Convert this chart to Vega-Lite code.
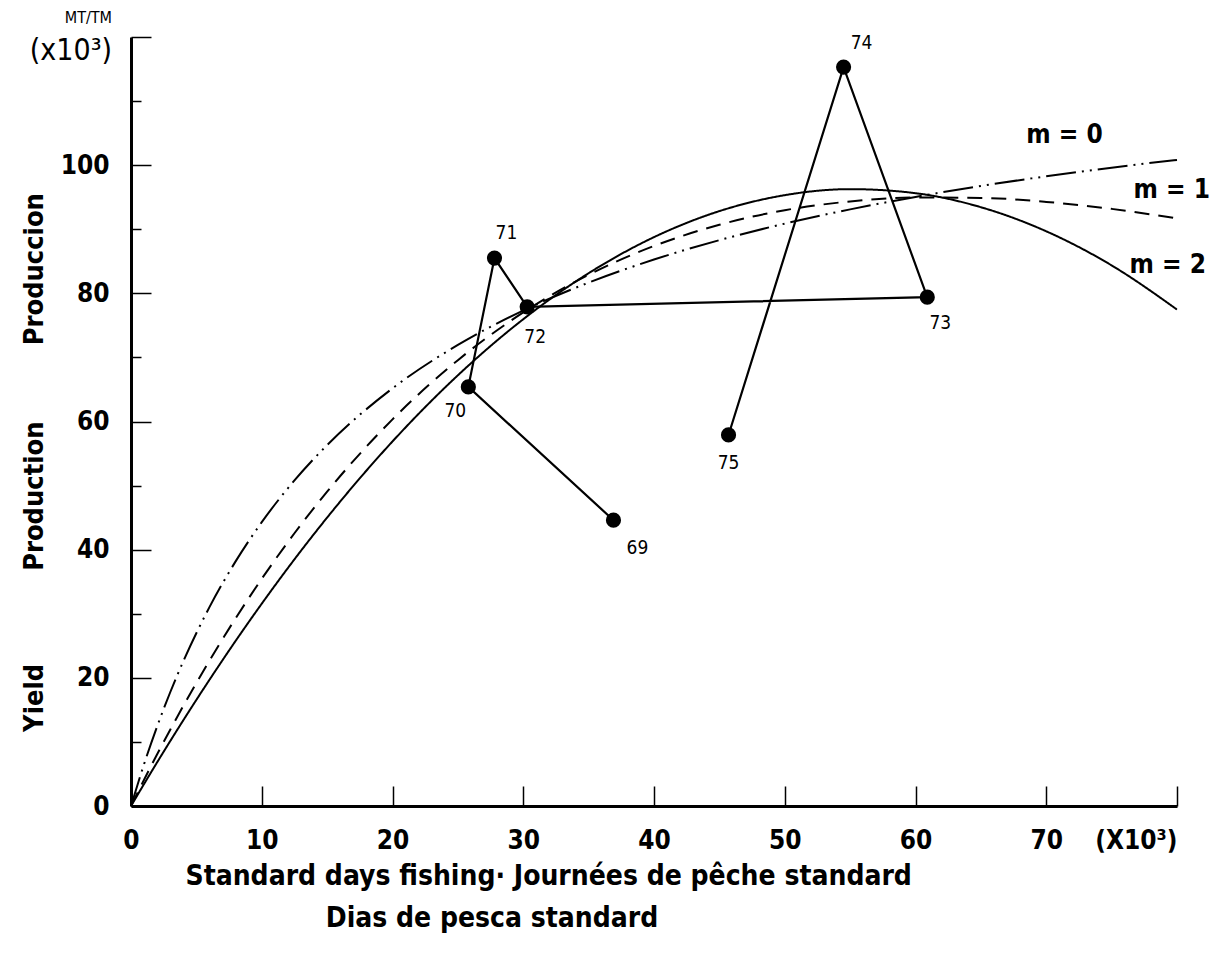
{
  "$schema": "https://vega.github.io/schema/vega-lite/v6.json",
  "width": 1046,
  "height": 769,
  "autosize": {"type": "none"},
  "padding": {"left": 131, "top": 37, "right": 39, "bottom": 163},
  "background": "white",
  "config": {"view": {"stroke": null}, "font": "DejaVu Sans Condensed"},
  "title": {
    "text": "MT/TM",
    "subtitle": "(x10³)",
    "anchor": "start",
    "frame": "group",
    "align": "right",
    "dx": -19,
    "offset": -42,
    "font": "DejaVu Sans Condensed",
    "fontSize": 16,
    "fontWeight": "normal",
    "color": "black",
    "subtitleFont": "DejaVu Sans Condensed",
    "subtitleFontSize": 30,
    "subtitleColor": "black",
    "subtitlePadding": 10
  },
  "datasets": {
    "curves": [
      {"m": "0", "effort": 0, "yield": 0}, {"m": "0", "effort": 1, "yield": 6.54}, {"m": "0", "effort": 2, "yield": 12.43}, {"m": "0", "effort": 3, "yield": 17.75}, {"m": "0", "effort": 4, "yield": 22.58}, {"m": "0", "effort": 6, "yield": 31.03}, {"m": "0", "effort": 8, "yield": 38.17}, {"m": "0", "effort": 10, "yield": 44.29}, {"m": "0", "effort": 12.5, "yield": 50.8}, {"m": "0", "effort": 15, "yield": 56.32}, {"m": "0", "effort": 20, "yield": 65.17}, {"m": "0", "effort": 25, "yield": 71.95}, {"m": "0", "effort": 30, "yield": 77.32}, {"m": "0", "effort": 35, "yield": 81.67}, {"m": "0", "effort": 40, "yield": 85.27}, {"m": "0", "effort": 45, "yield": 88.3}, {"m": "0", "effort": 50, "yield": 90.88}, {"m": "0", "effort": 55, "yield": 93.1}, {"m": "0", "effort": 60, "yield": 95.04}, {"m": "0", "effort": 65, "yield": 96.75}, {"m": "0", "effort": 70, "yield": 98.26}, {"m": "0", "effort": 75, "yield": 99.61}, {"m": "0", "effort": 80, "yield": 100.82},
      {"m": "1", "effort": 0, "yield": 0}, {"m": "1", "effort": 1, "yield": 4.1}, {"m": "1", "effort": 2, "yield": 8.07}, {"m": "1", "effort": 3, "yield": 11.9}, {"m": "1", "effort": 4, "yield": 15.62}, {"m": "1", "effort": 6, "yield": 22.68}, {"m": "1", "effort": 8, "yield": 29.29}, {"m": "1", "effort": 10, "yield": 35.45}, {"m": "1", "effort": 12.5, "yield": 42.56}, {"m": "1", "effort": 15, "yield": 49.05}, {"m": "1", "effort": 20, "yield": 60.33}, {"m": "1", "effort": 25, "yield": 69.57}, {"m": "1", "effort": 30, "yield": 77.02}, {"m": "1", "effort": 35, "yield": 82.89}, {"m": "1", "effort": 40, "yield": 87.39}, {"m": "1", "effort": 45, "yield": 90.7}, {"m": "1", "effort": 50, "yield": 92.97}, {"m": "1", "effort": 55, "yield": 94.34}, {"m": "1", "effort": 60, "yield": 94.95}, {"m": "1", "effort": 65, "yield": 94.89}, {"m": "1", "effort": 70, "yield": 94.27}, {"m": "1", "effort": 75, "yield": 93.18}, {"m": "1", "effort": 80, "yield": 91.69},
      {"m": "2", "effort": 0, "yield": 0}, {"m": "2", "effort": 1, "yield": 3.44}, {"m": "2", "effort": 2, "yield": 6.82}, {"m": "2", "effort": 3, "yield": 10.13}, {"m": "2", "effort": 4, "yield": 13.38}, {"m": "2", "effort": 6, "yield": 19.69}, {"m": "2", "effort": 8, "yield": 25.76}, {"m": "2", "effort": 10, "yield": 31.57}, {"m": "2", "effort": 12.5, "yield": 38.49}, {"m": "2", "effort": 15, "yield": 45.01}, {"m": "2", "effort": 20, "yield": 56.89}, {"m": "2", "effort": 25, "yield": 67.21}, {"m": "2", "effort": 30, "yield": 75.96}, {"m": "2", "effort": 35, "yield": 83.14}, {"m": "2", "effort": 40, "yield": 88.77}, {"m": "2", "effort": 45, "yield": 92.83}, {"m": "2", "effort": 50, "yield": 95.32}, {"m": "2", "effort": 55, "yield": 96.26}, {"m": "2", "effort": 60, "yield": 95.63}, {"m": "2", "effort": 65, "yield": 93.44}, {"m": "2", "effort": 70, "yield": 89.68}, {"m": "2", "effort": 75, "yield": 84.36}, {"m": "2", "effort": 80, "yield": 77.47}
    ],
    "obs": [
      {"year": 69, "effort": 36.9, "yield": 44.6},
      {"year": 70, "effort": 25.8, "yield": 65.4},
      {"year": 71, "effort": 27.8, "yield": 85.5},
      {"year": 72, "effort": 30.3, "yield": 77.9},
      {"year": 73, "effort": 60.9, "yield": 79.4},
      {"year": 74, "effort": 54.5, "yield": 115.3},
      {"year": 75, "effort": 45.7, "yield": 57.9}
    ],
    "curveLabels": [
      {"label": "m = 0", "effort": 71.4, "yield": 104.7},
      {"label": "m = 1", "effort": 79.6, "yield": 96.1},
      {"label": "m = 2", "effort": 79.3, "yield": 84.4}
    ]
  },
  "encoding": {
    "x": {
      "field": "effort",
      "type": "quantitative",
      "scale": {"domain": [0, 80], "nice": false, "zero": true},
      "axis": {
        "values": [0, 10, 20, 30, 40, 50, 60, 70, 80],
        "labelExpr": "datum.value == 80 ? '(X10³)' : datum.label",
        "labelAlign": {"condition": {"test": "datum.value == 80", "value": "right"}, "value": "center"},
        "labelFont": "DejaVu Sans Condensed",
        "labelFontWeight": "bold",
        "labelFontSize": 26,
        "labelColor": "black",
        "labelPadding": 41,
        "labelFlush": false,
        "labelOverlap": false,
        "tickSize": -20,
        "tickColor": "black",
        "tickWidth": 1.5,
        "domainColor": "black",
        "domainWidth": 3,
        "grid": false,
        "title": ["Standard days fishing· Journées de pêche standard", "\u200b\u00a0\u00a0\u00a0\u00a0\u00a0\u00a0\u00a0\u00a0\u00a0\u00a0\u00a0\u00a0\u00a0\u00a0\u00a0\u00a0Dias de  pesca standard"],
        "titleFont": "DejaVu Sans Condensed",
        "titleFontWeight": "bold",
        "titleFontSize": 28,
        "titleColor": "black",
        "titleAlign": "left",
        "titleAnchor": "start",
        "titleBaseline": "top",
        "titleX": 54,
        "titleY": 56,
        "titleLineHeight": 42
      }
    },
    "y": {
      "field": "yield",
      "type": "quantitative",
      "scale": {"domain": [0, 120], "nice": false, "zero": true},
      "axis": {
        "values": [0, 10, 20, 30, 40, 50, 60, 70, 80, 90, 100, 110, 120],
        "labelExpr": "datum.value % 20 == 0 && datum.value <= 100 ? datum.label : ''",
        "labelFont": "DejaVu Sans Condensed",
        "labelFontWeight": "bold",
        "labelFontSize": 26,
        "labelColor": "black",
        "labelPadding": 42,
        "labelFlush": false,
        "labelOverlap": false,
        "tickSize": {"condition": {"test": "datum.value % 20 == 0", "value": -20}, "value": -10},
        "tickColor": "black",
        "tickWidth": 1.5,
        "domainColor": "black",
        "domainWidth": 3,
        "grid": false,
        "title": "Yield\u00a0\u00a0\u00a0\u00a0\u00a0\u00a0\u00a0\u00a0\u00a0\u00a0\u00a0Production\u00a0\u00a0\u00a0\u00a0\u00a0\u00a0\u00a0\u00a0\u00a0Produccion",
        "titleFont": "DejaVu Sans Condensed",
        "titleFontWeight": "bold",
        "titleFontSize": 27,
        "titleColor": "black",
        "titleAngle": -90,
        "titleAlign": "center",
        "titleBaseline": "middle",
        "titleX": -97,
        "titleY": 425
      }
    }
  },
  "layer": [
    {
      "data": {"name": "curves"},
      "mark": {"type": "line", "color": "black", "strokeWidth": 2, "interpolate": "monotone"},
      "encoding": {
        "strokeDash": {
          "field": "m",
          "type": "nominal",
          "scale": {"domain": ["0", "1", "2"], "range": [[30, 6, 2, 6, 2, 6], [15, 9], [1, 0]]},
          "legend": null
        }
      }
    },
    {
      "data": {"name": "obs"},
      "mark": {"type": "line", "color": "black", "strokeWidth": 2.2},
      "encoding": {"order": {"field": "year", "type": "quantitative"}}
    },
    {
      "data": {"name": "obs"},
      "mark": {"type": "circle", "color": "black", "opacity": 1, "size": 230}
    },
    {
      "data": {"name": "obs"},
      "transform": [{"filter": "datum.year == 69"}],
      "mark": {"type": "text", "font": "DejaVu Sans Condensed", "fontSize": 19, "color": "black", "dx": 24, "dy": 28},
      "encoding": {"text": {"field": "year"}}
    },
    {
      "data": {"name": "obs"},
      "transform": [{"filter": "datum.year == 70"}],
      "mark": {"type": "text", "font": "DejaVu Sans Condensed", "fontSize": 19, "color": "black", "dx": -13, "dy": 24},
      "encoding": {"text": {"field": "year"}}
    },
    {
      "data": {"name": "obs"},
      "transform": [{"filter": "datum.year == 71"}],
      "mark": {"type": "text", "font": "DejaVu Sans Condensed", "fontSize": 19, "color": "black", "dx": 12, "dy": -25},
      "encoding": {"text": {"field": "year"}}
    },
    {
      "data": {"name": "obs"},
      "transform": [{"filter": "datum.year == 72"}],
      "mark": {"type": "text", "font": "DejaVu Sans Condensed", "fontSize": 19, "color": "black", "dx": 8, "dy": 30},
      "encoding": {"text": {"field": "year"}}
    },
    {
      "data": {"name": "obs"},
      "transform": [{"filter": "datum.year == 73"}],
      "mark": {"type": "text", "font": "DejaVu Sans Condensed", "fontSize": 19, "color": "black", "dx": 13, "dy": 26},
      "encoding": {"text": {"field": "year"}}
    },
    {
      "data": {"name": "obs"},
      "transform": [{"filter": "datum.year == 74"}],
      "mark": {"type": "text", "font": "DejaVu Sans Condensed", "fontSize": 19, "color": "black", "dx": 18, "dy": -24},
      "encoding": {"text": {"field": "year"}}
    },
    {
      "data": {"name": "obs"},
      "transform": [{"filter": "datum.year == 75"}],
      "mark": {"type": "text", "font": "DejaVu Sans Condensed", "fontSize": 19, "color": "black", "dx": 0, "dy": 28},
      "encoding": {"text": {"field": "year"}}
    },
    {
      "data": {"name": "curveLabels"},
      "mark": {"type": "text", "font": "DejaVu Sans Condensed", "fontWeight": "bold", "fontSize": 26, "color": "black"},
      "encoding": {"text": {"field": "label"}}
    }
  ]
}
